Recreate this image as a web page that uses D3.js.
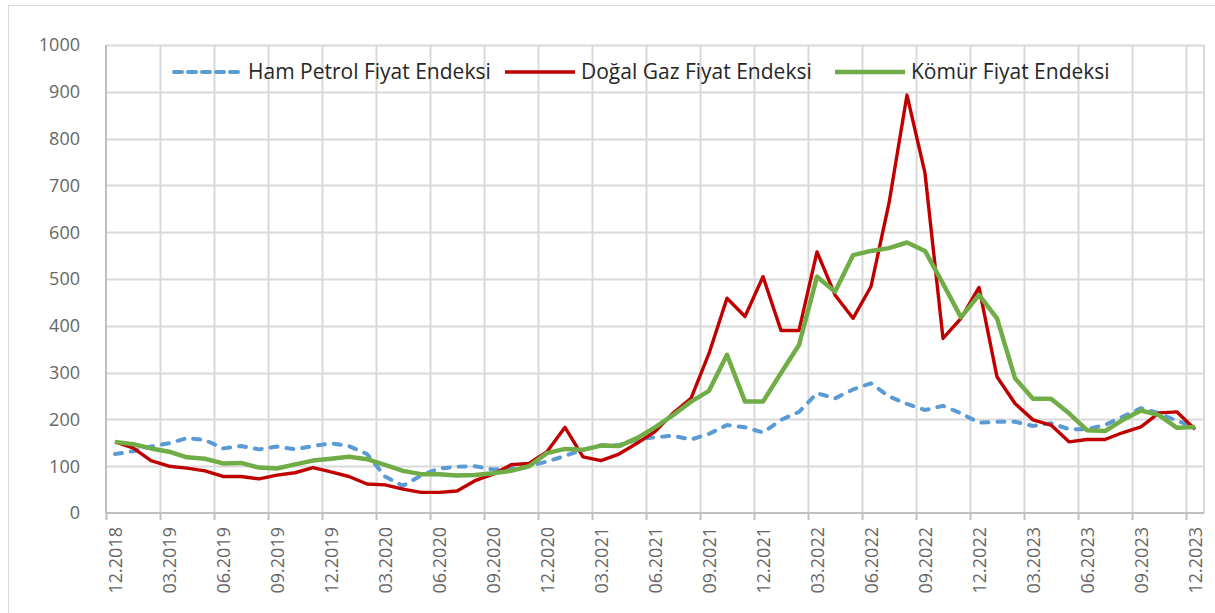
<!DOCTYPE html>
<html>
<head>
<meta charset="utf-8">
<script src="https://cdn.jsdelivr.net/npm/d3@7"></script>
<style>
  body { margin: 0; background: #fff; }
  svg { display: block; font-family: "Open Sans", "Noto Sans", sans-serif; }
  .tick-label { fill: #666666; font-size: 18px; }
  .legend-label { fill: #262626; font-size: 21px; }
</style>
</head>
<body>
<div id="chart"></div>
<script>
var width = 1215,
    height = 613;

const margin = { top: 45, right: 11, bottom: 100, left: 106 };

// categories (monthly, mm.yyyy)
const months = [
  '12.2018',
  '01.2019','02.2019','03.2019','04.2019','05.2019','06.2019','07.2019','08.2019','09.2019','10.2019','11.2019','12.2019',
  '01.2020','02.2020','03.2020','04.2020','05.2020','06.2020','07.2020','08.2020','09.2020','10.2020','11.2020','12.2020',
  '01.2021','02.2021','03.2021','04.2021','05.2021','06.2021','07.2021','08.2021','09.2021','10.2021','11.2021','12.2021',
  '01.2022','02.2022','03.2022','04.2022','05.2022','06.2022','07.2022','08.2022','09.2022','10.2022','11.2022','12.2022',
  '01.2023','02.2023','03.2023','04.2023','05.2023','06.2023','07.2023','08.2023','09.2023','10.2023','11.2023','12.2023'
];

// series values
const petrol = [
  126, 132, 142, 149, 160, 156, 138, 143, 136, 142, 136, 143, 149,
  143, 126, 78, 58, 80, 95, 99, 100, 93, 95, 100, 110,
  122, 135, 145, 145, 157, 162, 165, 157, 169, 188, 183, 172,
  199, 216, 256, 245, 264, 277, 249, 233, 220, 229, 213, 193,
  195, 195, 186, 192, 179, 179, 188, 206, 224, 213, 197, 184
];
const gas = [
  152, 139, 112, 100, 96, 90, 78, 78, 73, 81, 86, 97, 88,
  78, 62, 60, 51, 44, 44, 47, 69, 83, 103, 106, 131,
  183, 120, 112, 126, 149, 174, 213, 245, 341, 459, 420, 505,
  390, 390, 558, 466, 416, 484, 662, 893, 726, 373, 416, 482,
  291, 234, 199, 188, 152, 157, 157, 172, 184, 214, 216, 179
];
const coal = [
  152, 147, 138, 131, 119, 116, 106, 107, 97, 95, 104, 112, 116,
  120, 115, 103, 90, 83, 83, 80, 81, 85, 90, 100, 128,
  137, 135, 144, 143, 160, 183, 209, 238, 261, 338, 238, 238,
  299, 359, 505, 473, 551, 560, 566, 578, 560, 490, 418, 466,
  416, 288, 244, 244, 213, 177, 175, 199, 219, 209, 182, 184
];

const yTicks = [0, 100, 200, 300, 400, 500, 600, 700, 800, 900, 1000];

const seriesNames = ['Ham Petrol Fiyat Endeksi', 'Doğal Gaz Fiyat Endeksi', 'Kömür Fiyat Endeksi'];

const series = [
  { name: seriesNames[0], values: petrol, color: '#5B9BD5', width: 4, dash: '7,9', legendX: 172 },
  { name: seriesNames[1], values: gas, color: '#C00000', width: 3.4, dash: null, legendX: 505 },
  { name: seriesNames[2], values: coal, color: '#70AD47', width: 4.5, dash: null, legendX: 835 }
];

var svg = d3.select('#chart').append('svg')
    .attr('width', width)
    .attr('height', height);

// outer chart frame
svg.append('rect')
    .attr('x', 8.5)
    .attr('y', 5.5)
    .attr('width', width + 20)
    .attr('height', height + 20)
    .attr('fill', 'none')
    .attr('stroke', '#d9d9d9');

var plotW = width - margin.left - margin.right,
    plotH = height - margin.top - margin.bottom;

var x = d3.scaleBand()
    .domain(months)
    .range([margin.left, margin.left + plotW]);

var y = d3.scaleLinear()
    .domain([0, 1000])
    .range([margin.top + plotH, margin.top]);

var cx = d => x(d) + x.bandwidth() / 2;

// horizontal gridlines
svg.append('g').selectAll('line')
    .data(yTicks.filter(d => d > 0))
    .enter().append('line')
    .attr('x1', margin.left)
    .attr('x2', margin.left + plotW)
    .attr('y1', d => Math.round(y(d)) + 0.5)
    .attr('y2', d => Math.round(y(d)) + 0.5)
    .attr('stroke', '#d9d9d9')
    .attr('stroke-width', 2);

// vertical gridlines every 3 months
var gridMonths = months.filter((d, i) => i % 3 === 0);

svg.append('g').selectAll('line')
    .data(gridMonths.slice(1))
    .enter().append('line')
    .attr('x1', d => Math.round(x(d)) + 0.5)
    .attr('x2', d => Math.round(x(d)) + 0.5)
    .attr('y1', margin.top)
    .attr('y2', margin.top + plotH)
    .attr('stroke', '#d9d9d9')
    .attr('stroke-width', 2);

// right border of plot
svg.append('line')
    .attr('x1', margin.left + plotW)
    .attr('x2', margin.left + plotW)
    .attr('y1', margin.top)
    .attr('y2', margin.top + plotH)
    .attr('stroke', '#d9d9d9')
    .attr('stroke-width', 2);

// axes lines
svg.append('line')
    .attr('x1', margin.left)
    .attr('x2', margin.left)
    .attr('y1', margin.top)
    .attr('y2', margin.top + plotH)
    .attr('stroke', '#bfbfbf')
    .attr('stroke-width', 2);

svg.append('line')
    .attr('x1', margin.left)
    .attr('x2', margin.left + plotW)
    .attr('y1', margin.top + plotH)
    .attr('y2', margin.top + plotH)
    .attr('stroke', '#bfbfbf')
    .attr('stroke-width', 2);

// x tick marks
svg.append('g').selectAll('line')
    .data(gridMonths)
    .enter().append('line')
    .attr('x1', d => Math.round(x(d)) + 0.5)
    .attr('x2', d => Math.round(x(d)) + 0.5)
    .attr('y1', margin.top + plotH)
    .attr('y2', margin.top + plotH + 7)
    .attr('stroke', '#bfbfbf')
    .attr('stroke-width', 2);

// y labels
svg.append('g').selectAll('text')
    .data(yTicks)
    .enter().append('text')
    .attr('class', 'tick-label')
    .attr('x', 80)
    .attr('y', d => y(d))
    .attr('dy', '0.35em')
    .attr('text-anchor', 'end')
    .text(d => d);

// x labels (rotated)
svg.append('g').selectAll('text')
    .data(gridMonths)
    .enter().append('text')
    .attr('class', 'tick-label')
    .attr('transform', d => `translate(${cx(d) + 1}, ${margin.top + plotH + 14}) rotate(-90)`)
    .attr('dy', '0.35em')
    .attr('text-anchor', 'end')
    .text(d => d);

// lines
var line = d3.line()
    .x((d, i) => cx(months[i]))
    .y(d => y(d));

series.forEach(s => {
    svg.append('path')
        .datum(s.values)
        .attr('fill', 'none')
        .attr('stroke', s.color)
        .attr('stroke-width', s.width)
        .attr('stroke-linejoin', 'round')
        .attr('stroke-linecap', s.dash ? 'round' : 'butt')
        .attr('stroke-dasharray', s.dash)
        .attr('d', line);
});

// legend
var legendY = 72;
var legend = svg.selectAll('.legend')
    .data(series)
    .enter().append('g')
    .attr('class', 'legend')
    .attr('transform', d => `translate(${d.legendX}, ${legendY})`);

legend.append('line')
    .attr('x1', d => d.dash ? 2 : 0)
    .attr('x2', d => d.dash ? 66 : 70)
    .attr('y1', 0)
    .attr('y2', 0)
    .attr('stroke', d => d.color)
    .attr('stroke-width', d => d.width)
    .attr('stroke-linecap', d => d.dash ? 'round' : 'butt')
    .attr('stroke-dasharray', d => d.dash ? '8,6' : null);

legend.append('text')
    .attr('class', 'legend-label')
    .attr('x', 76)
    .attr('dy', '0.35em')
    .text(d => d.name);
</script>
</body>
</html>
